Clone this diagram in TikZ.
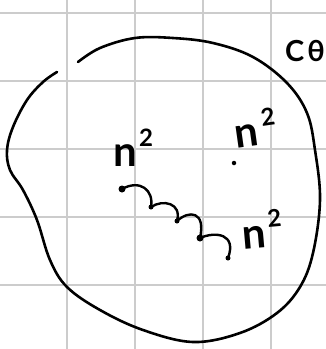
\documentclass[tikz,border=0pt]{standalone}
\usepackage{fontspec}
\setmainfont{Lato}
\newcommand\nletter{\fontsize{42}{42}\selectfont\bfseries n}
\newcommand\twoletter{\fontsize{24}{24}\selectfont\bfseries 2}
\begin{document}
\begin{tikzpicture}[x=1pt,y=-1pt,
  gridline/.style={draw=black!20,line width=1.6pt},
  ink/.style={draw=black,line width=2.6pt,line cap=round,line join=round},
  dotbig/.style={circle,fill=black,inner sep=0pt,minimum size=7pt},
  dotsmall/.style={circle,fill=black,inner sep=0pt,minimum size=5pt},
  lbl/.style={inner sep=0pt,anchor=base west}]
\useasboundingbox (0,0) rectangle (326,349);
\clip (0,0) rectangle (326,349);
\fill[white] (0,0) rectangle (326,349);
% grid
\foreach \x in {67,135,203,271} \draw[gridline] (\x,0) -- (\x,349);
\foreach \y in {13,81,149,217,285} \draw[gridline] (0,\y) -- (326,\y);
% blob
\draw[ink] plot[smooth,tension=0.6] coordinates {(78,62) (100,48) (135,38) (173,38) (213,43) (253,57) (287,83) (307,113) (315,150) (320,200) (313,253) (300,287) (277,313) (240,333) (193,342) (143,330) (100,310) (67,287) (50,260) (37,220) (23,190) (10,170) (7,150) (13,127) (27,100) (43,82) (57,72)};
% dots
\node[dotbig] (d1) at (122,189) {};
\node[dotsmall] (d2) at (151,207) {};
\node[dotsmall] (d3) at (177,221) {};
\node[dotbig] (d4) at (200,238) {};
\node[dotsmall] (d5) at (228,258) {};
\node[dotsmall,minimum size=4.5pt] (d6) at (234,163) {};
% wiggles
\draw[ink,line width=2.4pt] (d1.center) .. controls (140,179) and (154,190) .. (d2.center);
\draw[ink,line width=2.4pt] (d2.center) .. controls (163,199) and (182,203) .. (d3.center);
\draw[ink,line width=2.4pt] (d3.center) .. controls (189,210) and (206,211) .. (d4.center);
\draw[ink,line width=2.4pt] (d4.center) .. controls (216,231) and (237,234) .. (d5.center);
% labels
\node[lbl] (n1) at (113,166) {\nletter};
\node[lbl] (t1) at (139,146) {\twoletter};
\node[lbl,rotate=8] (n2) at (236,149) {\nletter};
\node[lbl,rotate=8] (t2) at (262,127) {\twoletter};
\node[lbl,rotate=5] (n3) at (243,250) {\nletter};
\node[lbl,rotate=5] (t3) at (268,228) {\twoletter};
\node[lbl] (c) at (285,61) {\fontsize{29}{29}\selectfont\bfseries C\hspace{3pt}θ};
\end{tikzpicture}
\end{document}
